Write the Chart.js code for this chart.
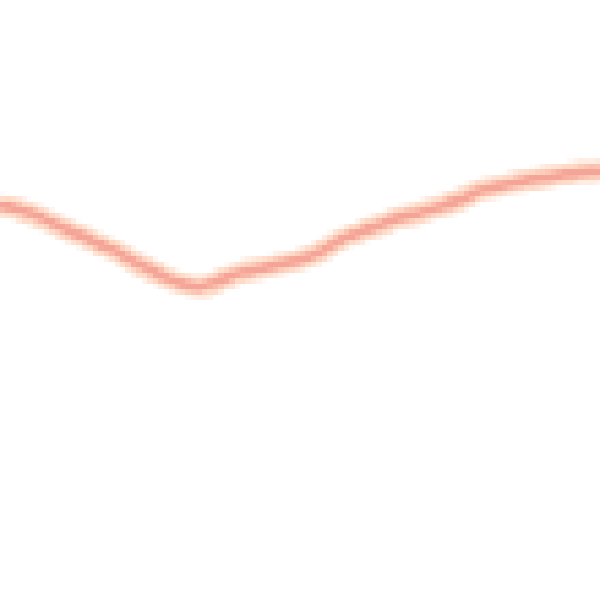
<!DOCTYPE html>
<html>
<head>
<meta charset="utf-8">
<script src="https://cdn.jsdelivr.net/npm/chart.js@4/dist/chart.umd.min.js"></script>
<style>
  html, body { margin: 0; padding: 0; background: #fff; }
  #myChart {
    width: 600px !important;
    height: 600px !important;
    image-rendering: pixelated;
    display: block;
  }
</style>
</head>
<body>
<canvas id="myChart" width="110" height="110"></canvas>
<script>
// categories along the x axis (one sample every 20px of the picture)
const labels = ['0', '1', '2', '3', '4', '5', '6', '7', '8', '9', '10',
    '11', '12', '13', '14', '15', '16', '17', '18', '19', '20',
    '21', '22', '23', '24', '25', '26', '27', '28', '29', '30'];

// the single series (0 = bottom, 100 = top)
const values = [65.8, 65.0, 63.8, 62.2, 60.8, 59.2, 57.8, 55.8, 54.2, 52.8, 52.2,
    53.3, 54.5, 55.2, 56.0, 56.7, 58.0, 60.0, 61.3, 62.5, 63.7,
    64.5, 65.5, 66.7, 68.2, 69.0, 69.7, 70.3, 70.8, 71.3, 71.5];

const yMin = 0;
const yMax = 100;

let canvas = document.getElementById('myChart');
let ctx = canvas.getContext('2d');

let chart = new Chart(ctx, {
    type: 'line',
    data: {
        labels: labels,
        datasets: [
            // dataset 0 is painted last, so the red core goes first
            {
                data: values,
                borderColor: 'rgba(238, 130, 120, 0.6)',
                borderWidth: 1.7,
                pointRadius: 0,
                tension: 0.3
            },
            {
                data: values,
                borderColor: 'rgba(255, 212, 188, 0.85)',
                borderWidth: 4,
                pointRadius: 0,
                tension: 0.3
            }
        ]
    },
    options: {
        responsive: false,
        devicePixelRatio: 1,
        animation: false,
        layout: { padding: 0 },
        plugins: {
            legend: { display: false },
            tooltip: { enabled: false }
        },
        scales: {
            x: { display: false, offset: false },
            y: { display: false, min: yMin, max: yMax }
        }
    }
});
</script>
</body>
</html>
